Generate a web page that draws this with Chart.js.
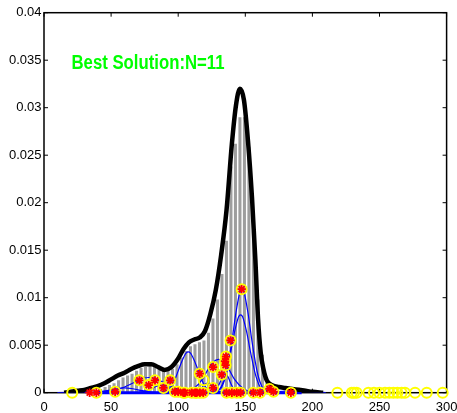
<!DOCTYPE html>
<html><head><meta charset="utf-8">
<script src="https://cdn.jsdelivr.net/npm/chart.js@4.4.0/dist/chart.umd.min.js"></script>
<style>html,body{margin:0;padding:0;background:#fff;}#wrap{width:457px;height:413px;}</style>
</head><body><div id="wrap"><canvas id="c" width="457" height="413"></canvas></div>
<script>
// ---- data ----
const titleText = "Best Solution:N=11";
const xTicksMin = 0, xTicksMax = 300, xStep = 50;
const yTicksMin = 0, yTicksMax = 0.04, yStep = 0.005;

const binCenters = [38.8,42.15,45.5,48.85,52.2,55.55,58.9,62.25,65.6,68.95,72.3,75.65,79.0,82.35,85.7,89.05,92.4,95.75,99.1,102.45,105.8,109.15,112.5,115.85,119.2,122.55,125.9,129.25,132.6,135.95,139.3,142.65,146.0,149.35,152.7,156.05,159.4,162.75,166.1,169.45];
const binHeights = [0.0002,0.0004,0.0006,0.0008,0.0010,0.0013,0.0016,0.0018,0.0020,0.0023,0.0026,0.0027,0.0028,0.0027,0.0025,0.0024,0.0023,0.0025,0.0030,0.0037,0.0044,0.0049,0.0051,0.0053,0.0055,0.0063,0.0078,0.0098,0.0125,0.0160,0.0238,0.0262,0.0290,0.0290,0.0259,0.0170,0.0098,0.0040,0.0012,0.0004];

const mixX = [15,20,25,30,35,40,45,50,55,60,65,70,75,80,85,90,95,100,104,108,112,116,120,124,128,132,136,140,143,146,149,152,155,157.5,159.5,161.5,163.5,166,170,175,180,185,190,195,200,208];
const mixY = [0,0.0001,0.0002,0.0003,0.0005,0.0007,0.001,0.0014,0.0018,0.0021,0.0025,0.0028,0.003,0.003,0.0027,0.0024,0.0027,0.0036,0.0046,0.0053,0.0056,0.0058,0.0065,0.0083,0.0108,0.0145,0.0192,0.0262,0.0302,0.032,0.0308,0.0265,0.0205,0.014,0.0078,0.0042,0.0025,0.0013,0.0008,0.0006,0.0005,0.0004,0.0003,0.0002,0.0001,0];

// component curves (11)
const compAx = [128,132,136,140,143,146,147.5,149,152,155,159,163,168];
const compAy = [0.0001,0.0005,0.0021,0.0054,0.0084,0.0106,0.0109,0.0106,0.0084,0.0054,0.0021,0.0005,0.0001];
const compBx = [127,131,135,139,142,145,146.5,148,151,154,158,162,167];
const compBy = [0.0001,0.0004,0.0017,0.0042,0.0064,0.0080,0.0082,0.0080,0.0064,0.0042,0.0017,0.0004,0.0001];
const compCx = [88,92,96,100,103,106,107.5,109,112,115,119,123,128];
const compCy = [0.0001,0.0003,0.0009,0.0023,0.0034,0.0042,0.0043,0.0042,0.0034,0.0023,0.0009,0.0002,0.00003];
const compDx = [100,106,112,118,122,126,130,134,138,142,148,154,160];
const compDy = [0.00001,0.0001,0.0005,0.0014,0.0024,0.0032,0.0035,0.0032,0.0024,0.0014,0.0005,0.0001,0.00001];
const compEx = [40,50,60,66,72,78,84,90,96,106,116];
const compEy = [0.00002,0.00016,0.0006,0.001,0.00144,0.0016,0.00144,0.001,0.0006,0.00012,0.00001];
const compFx = [70,76,80,84,88,92,96,100,106];
const compFy = [0.00003,0.00018,0.00042,0.00068,0.0008,0.00068,0.00042,0.00018,0.00003];
const compGx = [30,40,50,55,60,65,70,80,90];
const compGy = [0.000006,0.00007,0.0003,0.00044,0.0005,0.00044,0.0003,0.00007,0.000006];
const compHx = [124,128,131,133,135,137,139,142,146];
const compHy = [0.00001,0.00027,0.00104,0.0017,0.002,0.0017,0.00104,0.00027,0.00001];
const compIx = [110,114,117,120,122,124,127,130,134];
const compIy = [0.00001,0.00014,0.00046,0.00088,0.001,0.00088,0.00046,0.00014,0.00001];
const compJx = [10,20,30,40,50];
const compJy = [0,0.00005,0.0001,0.00005,0];
const compKx = [160,170,180,185,190,200,210];
const compKy = [0.00001,0.00006,0.00018,0.0002,0.00018,0.00006,0.00001];
const baseLineX = [38,192];
const baseLineY = [0,0];

// data points: red stars and yellow circles
const starX = [34,39,53,71,78,82.7,89,94,97.6,100,103.8,105,110,112.6,113.8,116,116.2,118.7,126,126,132.4,134.9,135.6,135.3,139,147.3,136,140,143.6,146.6,156,161,168,171,184];
const starY = [0,0,0.0001,0.0013,0.0008,0.0013,0.0005,0.0013,0.0001,0.0001,0,0,0,0,0,0.002,0,0,0.0005,0.0027,0.0019,0.0033,0.0038,0.0029,0.0055,0.0109,0,0,0,0,0,0,0.0004,0.0001,0];
const circX = [21,39,53,71,78,82.7,89,94,97.6,100,103.8,105,110,112.6,113.8,116,116.2,118.7,119,126,126,132.4,134.9,135.6,135.3,139,147.3,136,140,143.6,146.6,156,161,168,171,184,218.6,229.3,231,233,241.7,245.9,249.9,254.1,257.3,260.3,263.3,266.5,269,276.5,285.2,297.1];
const circY = [0,0,0.0001,0.0013,0.0008,0.0013,0.0005,0.0013,0.0001,0.0001,0,0,0,0,0,0.002,0,0,0.0013,0.0005,0.0027,0.0019,0.0033,0.0038,0.0029,0.0055,0.0109,0,0,0,0,0,0,0.0004,0.0001,0,0,0,0,0,0,0,0,0,0,0,0,0,0,0,0,0];

// ---- build datasets ----
const zip = (xs, ys) => xs.map((v, i) => ({x: v, y: ys[i]}));
const comps = [[compAx,compAy],[compBx,compBy],[compCx,compCy],[compDx,compDy],[compEx,compEy],[compFx,compFy],[compGx,compGy],[compHx,compHy],[compIx,compIy],[compJx,compJy],[compKx,compKy]];

const datasets = [];
datasets.push({type:'scatter', data: zip(starX, starY), pointStyle:'star', pointRadius:4.2, borderColor:'#ff0000', backgroundColor:'#ff0000', pointBorderWidth:1.8, showLine:false, clip:false, order:0});
datasets.push({type:'scatter', data: zip(circX, circY), pointStyle:'circle', pointRadius:5, borderColor:'#ffff00', backgroundColor:'rgba(0,0,0,0)', pointBorderWidth:2, showLine:false, clip:false, order:1});
datasets.push({type:'line', data: zip(mixX, mixY), borderColor:'#000', borderWidth:4.5, pointRadius:0, cubicInterpolationMode:'monotone', fill:false, order:2});
comps.forEach(([xs, ys]) => datasets.push({type:'line', data: zip(xs, ys), borderColor:'#0000ff', borderWidth:1.2, pointRadius:0, cubicInterpolationMode:'monotone', fill:false, order:3}));
datasets.push({type:'line', data: zip(baseLineX, baseLineY), borderColor:'#0000ff', borderWidth:3, pointRadius:0, fill:false, clip:false, order:4});
datasets.push({type:'bar', data: zip(binCenters, binHeights), backgroundColor:'#9e9e9e', borderWidth:0, barPercentage:0.68, categoryPercentage:1, grouped:false, order:5});

const framePlugin = {
  id: 'frame',
  beforeDatasetsDraw(chart) {
    const {ctx, chartArea: a, scales: {x, y}} = chart;
    const tl = 4;
    ctx.save();
    ctx.strokeStyle = '#000';
    ctx.lineWidth = 1;
    ctx.beginPath();
    x.ticks.forEach(t => {
      const px = x.getPixelForValue(t.value);
      ctx.moveTo(px, a.bottom); ctx.lineTo(px, a.bottom - tl);
      ctx.moveTo(px, a.top); ctx.lineTo(px, a.top + tl);
    });
    y.ticks.forEach(t => {
      const py = y.getPixelForValue(t.value);
      ctx.moveTo(a.left, py); ctx.lineTo(a.left + tl, py);
      ctx.moveTo(a.right, py); ctx.lineTo(a.right - tl, py);
    });
    ctx.stroke();
    ctx.lineWidth = 1.5;
    ctx.strokeRect(a.left, a.top, a.right - a.left, a.bottom - a.top);
    ctx.restore();
  },
  afterDraw(chart) {
    const {ctx, scales: {x, y}} = chart;
    ctx.save();
    ctx.font = 'bold 20px "Liberation Sans", Arial, sans-serif';
    const w = ctx.measureText(titleText).width;
    const sx = 153 / w;
    ctx.translate(x.getPixelForValue(20.5), y.getPixelForValue(0.0341));
    ctx.scale(sx, 1);
    ctx.fillStyle = '#00ff00';
    ctx.textBaseline = 'alphabetic';
    ctx.textAlign = 'left';
    ctx.fillText(titleText, 0, 0);
    ctx.restore();
  }
};

new Chart(document.getElementById('c'), {
  data: { datasets },
  options: {
    responsive: false,
    animation: false,
    devicePixelRatio: 1,
    layout: { padding: { left: 0, right: 10.4, top: 12.7, bottom: 0 } },
    plugins: { legend: { display: false }, tooltip: { enabled: false } },
    scales: {
      x: {
        type: 'linear', min: xTicksMin, max: xTicksMax, offset: false,
        grid: { display: false, drawTicks: false },
        border: { display: false },
        ticks: { stepSize: xStep, color: '#000', padding: 7, maxRotation: 0, font: { family: '"Liberation Sans", Arial, sans-serif', size: 13 } },
        afterFit(s) { s.height = 20.3; s.paddingLeft = 0; s.paddingRight = 0; }
      },
      y: {
        type: 'linear', min: yTicksMin, max: yTicksMax,
        grid: { display: false, drawTicks: false },
        border: { display: false },
        ticks: { stepSize: yStep, color: '#000', padding: 2.5, font: { family: '"Liberation Sans", Arial, sans-serif', size: 13 }, callback: v => String(+(+v).toFixed(3)) },
        afterFit(s) { s.width = 44; s.paddingTop = 0; s.paddingBottom = 0; }
      }
    }
  },
  plugins: [framePlugin]
});
</script>
</body></html>
